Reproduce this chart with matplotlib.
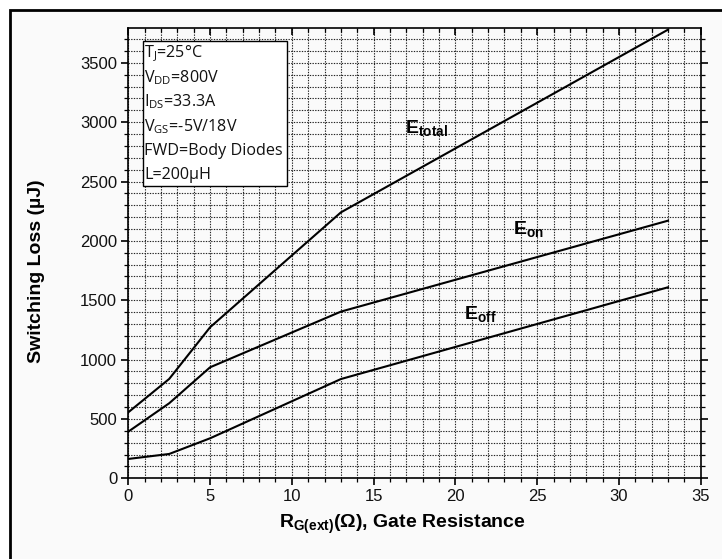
import matplotlib
matplotlib.use("Agg")
import matplotlib.pyplot as plt
from matplotlib.patches import Rectangle
from matplotlib.ticker import MultipleLocator

plt.rcParams['mathtext.fontset'] = 'custom'
plt.rcParams['mathtext.rm'] = 'Open Sans'
plt.rcParams['mathtext.bf'] = 'Liberation Sans:bold'

# Gate resistance (ohm) and switching losses (uJ)
rg = [0, 2.5, 5, 13, 33]
e_on = [393, 632, 935, 1404, 2170]
e_off = [163, 205, 337, 836, 1609]
e_total = [556, 837, 1272, 2240, 3779]

x_ticks = [0, 5, 10, 15, 20, 25, 30, 35]
y_ticks = [0, 500, 1000, 1500, 2000, 2500, 3000, 3500]

conditions = [
    r'$\mathrm{T_J}$=25°C',
    r'$\mathrm{V_{DD}}$=800V',
    r'$\mathrm{I_{DS}}$=33.3A',
    r'$\mathrm{V_{GS}}$=-5V/18V',
    'FWD=Body Diodes',
    'L=200µH',
]

fig = plt.figure(figsize=(7.22, 5.59), dpi=100, facecolor='white')
fig.patches.append(Rectangle((10 / 722, -0.2), 1.2, 1 - 10 / 559 + 0.2,
                             transform=fig.transFigure, facecolor='#fafafa',
                             edgecolor='black', linewidth=2, zorder=-10))

ax = fig.add_axes([128.3 / 722, 1 - 478.3 / 559, (700.7 - 128.3) / 722, (478.3 - 28) / 559])
ax.set_facecolor('#fafafa')

for y in (e_total, e_on, e_off):
    ax.plot(rg, y, color='black', lw=1.5, solid_joinstyle='miter', zorder=3)

ax.set_xlim(0, 35)
ax.set_ylim(0, 3793)
ax.set_xticks(x_ticks)
ax.set_yticks(y_ticks)
ax.xaxis.set_minor_locator(MultipleLocator(1))
ax.yaxis.set_minor_locator(MultipleLocator(100))

ax.grid(which='both', color='#222222', linestyle=(0, (1.2, 1.2)), linewidth=0.8)
ax.set_axisbelow(True)

for s in ax.spines.values():
    s.set_linewidth(1.2)

ax.tick_params(axis='both', which='major', direction='out', length=5, width=1.2,
               labelsize=12, labelcolor='#111111', pad=3)
ax.tick_params(axis='both', which='minor', direction='out', length=3, width=0.9)
ax.tick_params(axis='x', which='both', top=True)
ax.tick_params(axis='y', which='both', right=True)
for t in ax.xaxis.get_ticklines(minor=False)[1::2] + ax.xaxis.get_ticklines(minor=True)[1::2]:
    t.set_marker(3)
for t in ax.yaxis.get_ticklines(minor=False)[1::2] + ax.yaxis.get_ticklines(minor=True)[1::2]:
    t.set_marker(1)
for lab in ax.get_xticklabels() + ax.get_yticklabels():
    lab.set_family('Liberation Sans')

ax.set_ylabel('Switching Loss (µJ)', family='Liberation Sans', fontweight='bold',
              fontsize=14, labelpad=8)
ax.yaxis.set_label_coords(-0.145, 0.46)
ax.set_xlabel(r'$\mathbf{R}_{\mathbf{G(ext)}}$(Ω), Gate Resistance', family='Liberation Sans',
              fontweight='bold', fontsize=14, labelpad=2)
ax.xaxis.set_label_coords(0.478, -0.075)

# Curve labels
ax.text(16.9, 2950, r'$\mathbf{E_{total}}$', fontsize=14, va='center', ha='left')
ax.text(23.5, 2100, r'$\mathbf{E_{on}}$', fontsize=14, va='center', ha='left')
ax.text(20.5, 1380, r'$\mathbf{E_{off}}$', fontsize=14, va='center', ha='left')

# Test conditions box
ax.add_patch(Rectangle((0.88, 2464), 9.69 - 0.88, 3686 - 2464,
                       facecolor='white', edgecolor='black',
                       linewidth=1.0, zorder=4))
for i, line in enumerate(conditions):
    ypix = 53.3 + i * 24.3
    ax.text(0.99, (478.3 - ypix) / 0.11873, line, family='Open Sans', fontsize=11.6,
            va='center', ha='left', zorder=5, color='#111111')

fig.savefig('out.png', dpi=100, facecolor=fig.get_facecolor())
